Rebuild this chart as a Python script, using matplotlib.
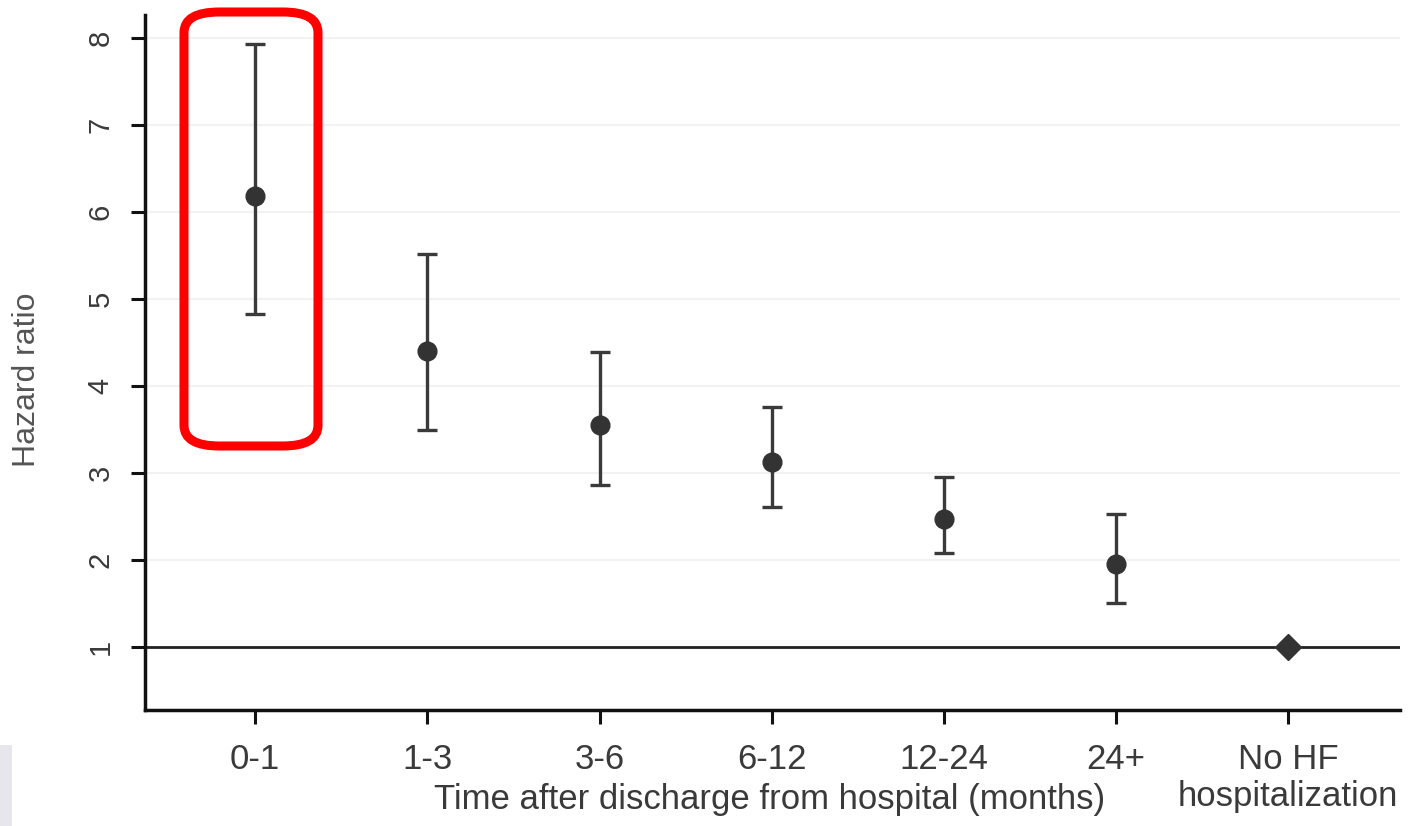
import matplotlib.pyplot as plt
import numpy as np
from matplotlib.patches import FancyBboxPatch, Rectangle

plt.rcParams['font.family'] = ['Liberation Sans', 'DejaVu Sans']

# Hazard ratios
categories = ['0-1', '1-3', '3-6', '6-12', '12-24', '24+', 'No HF\nhospitalization']
hr = [6.18, 4.40, 3.55, 3.13, 2.47, 1.95]
lower = [4.82, 3.49, 2.86, 2.61, 2.08, 1.51]
upper = [7.93, 5.51, 4.39, 3.76, 2.95, 2.53]
ref_hr = 1.0
yticks = [1, 2, 3, 4, 5, 6, 7, 8]

fig = plt.figure(figsize=(14.11, 8.26), dpi=100)
ax = fig.add_axes([0.1028, 0.1404, 0.8894, 0.8414])

x = np.arange(len(hr))
hr = np.array(hr)
yerr = [hr - np.array(lower), np.array(upper) - hr]

# faint grid lines
for t in yticks:
    ax.axhline(t, color='#f2f2f2', lw=1.5, zorder=0)
ax.axhline(ref_hr, color='#222222', lw=2, zorder=1)

ax.errorbar(x, hr, yerr=yerr, fmt='o', color='#333333', ecolor='#3a3a3a',
            elinewidth=2.4, capsize=7.5, capthick=2.4, markersize=13.5, zorder=3)
ax.plot([len(categories) - 1], [ref_hr], marker='D', color='#333333',
        markersize=13, zorder=3)

ax.set_xlim(-0.64, 6.65)
ax.set_ylim(0.276, 8.26)
ax.set_xticks(np.arange(len(categories)))
ax.set_xticklabels(categories, fontsize=25, color='#3a3a3a', linespacing=1.15)
ax.set_yticks(yticks)
ax.set_yticklabels([str(t) for t in yticks], fontsize=21, color='#3a3a3a',
                   rotation=90, va='center')

for s in ['top', 'right']:
    ax.spines[s].set_visible(False)
for s in ['left', 'bottom']:
    ax.spines[s].set_linewidth(2.5)
    ax.spines[s].set_color('#111111')
ax.tick_params(axis='both', length=10, width=2.2, color='#111111')
ax.tick_params(axis='x', pad=14)
ax.tick_params(axis='y', pad=12)

ax.set_xlabel('Time after discharge from hospital (months)', fontsize=25, color='#3a3a3a')
ax.xaxis.set_label_coords(0.498, -0.105)
ax.set_ylabel('Hazard ratio', fontsize=23, color='#555555')
ax.yaxis.set_label_coords(-0.082, 0.475)

# red highlight box around the first category
fig.patches.append(FancyBboxPatch((184 / 1411, 1 - 446 / 826), 134 / 1411, 434 / 826,
                                  boxstyle='round,pad=0,rounding_size=0.025',
                                  transform=fig.transFigure, fill=False,
                                  edgecolor='#ff0000', linewidth=6.5, zorder=10))
# light grey patch at the bottom-left edge
fig.patches.append(Rectangle((0, 0), 12 / 1411, 81 / 826, transform=fig.transFigure,
                             facecolor='#e6e6ec', edgecolor='none'))

fig.savefig('out.png', dpi=100)
